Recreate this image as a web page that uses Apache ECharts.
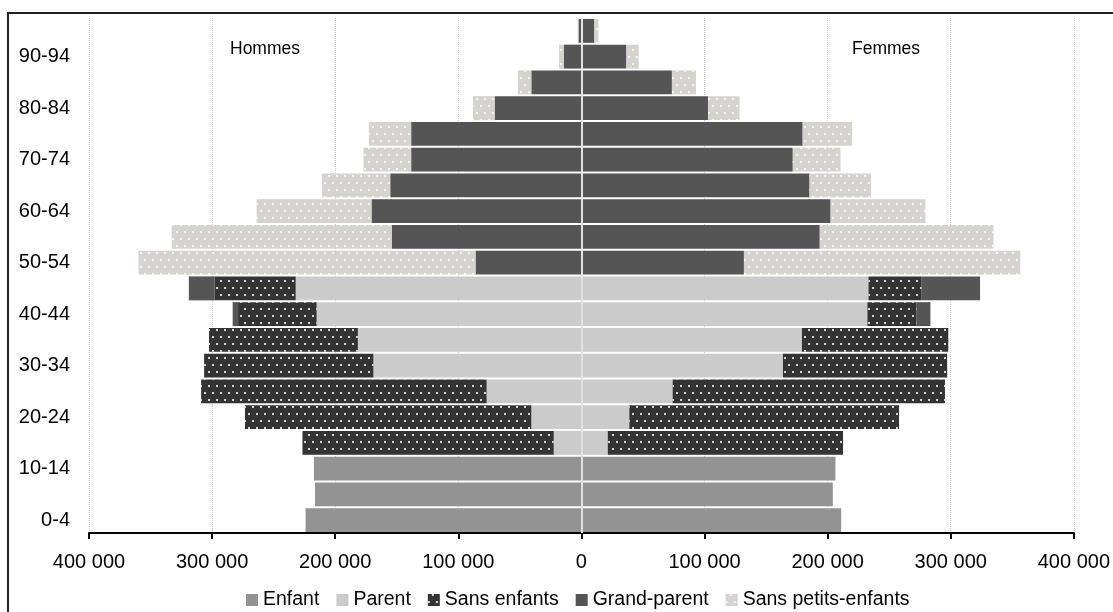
<!DOCTYPE html>
<html>
<head>
<meta charset="utf-8">
<script src="https://cdn.jsdelivr.net/npm/echarts@6/dist/echarts.min.js"></script>
<style>
  html, body { margin: 0; padding: 0; background: #fff; }
  #chart { width: 1113px; height: 612px; }
</style>
</head>
<body>
<div id="chart"></div>
<script>
// Age groups, youngest first (bottom of the pyramid)
const ages = ['0-4', '5-9', '10-14', '15-19', '20-24', '25-29', '30-34', '35-39', '40-44', '45-49',
              '50-54', '55-59', '60-64', '65-69', '70-74', '75-79', '80-84', '85-89', '90-94', '95+'];

// Hommes (left side), by family status
const hEnfant      = [224100, 216400, 217300, 0, 0, 0, 0, 0, 0, 0, 0, 0, 0, 0, 0, 0, 0, 0, 0, 0];
const hParent      = [0, 0, 0, 22500, 40700, 77000, 169000, 181600, 215100, 232100, 0, 0, 0, 0, 0, 0, 0, 0, 0, 0];
const hSansEnfants = [0, 0, 0, 204100, 232600, 231900, 137500, 120900, 63800, 66000, 0, 0, 0, 0, 0, 0, 0, 0, 0, 0];
const hGrandParent = [0, 0, 0, 0, 0, 0, 0, 0, 4400, 20800, 86000, 154100, 170500, 155300, 138300, 138300, 70500, 40700, 14200, 2400];
const hSansPetits  = [0, 0, 0, 0, 0, 0, 0, 0, 0, 0, 273800, 178700, 93300, 55500, 38700, 34400, 17600, 10900, 4000, 600];

// Femmes (right side), by family status
const fEnfant      = [211000, 204200, 206300, 0, 0, 0, 0, 0, 0, 0, 0, 0, 0, 0, 0, 0, 0, 0, 0, 0];
const fParent      = [0, 0, 0, 21400, 38900, 74100, 163700, 179100, 232300, 233200, 0, 0, 0, 0, 0, 0, 0, 0, 0, 0];
const fSansEnfants = [0, 0, 0, 191100, 219100, 221200, 133400, 118900, 40000, 43200, 0, 0, 0, 0, 0, 0, 0, 0, 0, 0];
const fGrandParent = [0, 0, 0, 0, 0, 0, 0, 0, 11200, 47400, 132000, 193600, 202400, 185300, 171700, 179700, 102800, 73500, 36500, 10500];
const fSansPetits  = [0, 0, 0, 0, 0, 0, 0, 0, 0, 0, 224500, 141100, 77000, 50000, 38700, 40200, 25700, 19500, 10000, 3300];

const statusNames = ['Enfant', 'Parent', 'Sans enfants', 'Grand-parent', 'Sans petits-enfants'];
const hommes = [hEnfant, hParent, hSansEnfants, hGrandParent, hSansPetits];
const femmes = [fEnfant, fParent, fSansEnfants, fGrandParent, fSansPetits];

const FONT = '"Liberation Sans Narrow", "Arial Narrow", "Liberation Sans", Arial, sans-serif';

const dots = {
  symbol: 'rect',
  symbolSize: 1,
  color: 'rgba(255,255,255,0.8)',
  dashArrayX: [[2, 6], [0, 4, 2, 2]],
  dashArrayY: [2, 5]
};

const styles = [
  { color: '#939393' },
  { color: '#cbcbcb' },
  { color: '#333333', decal: dots },
  { color: '#555555' },
  { color: '#d4d3cf', decal: dots }
];

function makeSeries(values, stack, idx, negate) {
  return {
    name: statusNames[idx],
    type: 'bar',
    stack: stack,
    barGap: '-100%',
    barCategoryGap: '7%',
    itemStyle: styles[idx],
    emphasis: { disabled: true },
    data: values.map(v => (v === 0 ? '-' : (negate ? -v : v)))
  };
}

const series = [];
hommes.forEach((vals, i) => series.push(makeSeries(vals, 'hommes', i, true)));
femmes.forEach((vals, i) => series.push(makeSeries(vals, 'femmes', i, false)));

// light vertical line at zero, drawn over the bars
series[series.length - 1].markLine = {
  silent: true,
  symbol: 'none',
  label: { show: false },
  lineStyle: { color: '#e2e2e2', width: 2, type: 'solid' },
  data: [{ xAxis: 0 }]
};

function fmt(v) {
  return String(Math.abs(v)).replace(/\B(?=(\d{3})+(?!\d))/g, ' ');
}

const chart = echarts.init(document.getElementById('chart'), null, { renderer: 'canvas' });
chart.setOption({
  animation: false,
  aria: { enabled: false },
  grid: { left: 89, right: 36, top: 18, bottom: 79, containLabel: false },
  legend: {
    data: statusNames,
    left: 241,
    top: 585,
    itemWidth: 12,
    itemHeight: 12,
    itemGap: 17,
    icon: 'rect',
    textStyle: { fontFamily: FONT, fontSize: 19.5, color: '#000' }
  },
  xAxis: {
    type: 'value',
    min: -400000,
    max: 400000,
    interval: 100000,
    axisLine: { show: true, lineStyle: { color: '#000', width: 2 } },
    axisTick: { show: true, length: 6, lineStyle: { color: '#000', width: 2 } },
    axisLabel: { formatter: fmt, fontFamily: FONT, fontSize: 20, color: '#000', margin: 19 },
    splitLine: { show: true, lineStyle: { color: '#cfcfcf', type: 'dotted', width: 1 } }
  },
  yAxis: {
    type: 'category',
    data: ages,
    axisLine: { show: false },
    axisTick: { show: false },
    axisLabel: { interval: 1, fontFamily: FONT, fontSize: 20, color: '#000', margin: 19 }
  },
  graphic: [
    {
      type: 'rect',
      shape: { x: 8, y: 13, width: 1200, height: 700 },
      style: { fill: 'none', stroke: '#222', lineWidth: 2 },
      silent: true
    },
    {
      type: 'text',
      left: 230, top: 40,
      style: { text: 'Hommes', font: '17.5px ' + FONT, fill: '#000' }
    },
    {
      type: 'text',
      left: 852, top: 40,
      style: { text: 'Femmes', font: '17.5px ' + FONT, fill: '#000' }
    }
  ],
  series: series
});
</script>
</body>
</html>
